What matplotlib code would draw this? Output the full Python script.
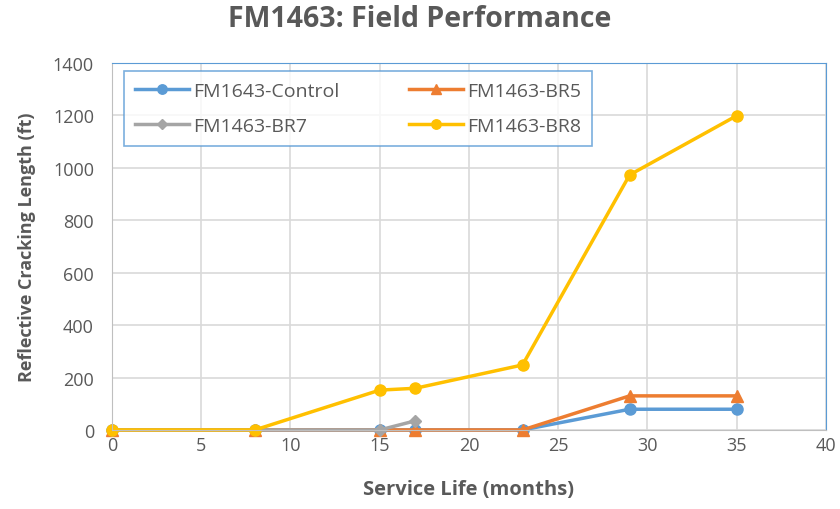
import matplotlib
matplotlib.use("Agg")
import matplotlib.pyplot as plt

months = [0, 8, 15, 17, 23, 29, 35]
control = [0, 0, 0, 0, 0, 79, 79]
br5 = [0, 0, 0, 0, 0, 130, 130]
br7_months = [0, 8, 15, 17]
br7 = [0, 0, 0, 35]
br8 = [0, 0, 152, 159, 248, 973, 1199]

plt.rcParams['font.family'] = ['Open Sans', 'DejaVu Sans']

fig = plt.figure(figsize=(8.4, 5.1), dpi=100)
ax = fig.add_axes([0.1333, 0.155, 0.850, 0.7195])

l1, = ax.plot(months, control, color='#5b9bd5', lw=2.5, marker='o', ms=8, label='FM1643-Control', clip_on=False)
l2, = ax.plot(months, br5, color='#ed7d31', lw=2.5, marker='^', ms=8, label='FM1463-BR5', clip_on=False)
l3, = ax.plot(br7_months, br7, color='#a5a5a5', lw=2.5, marker='D', ms=6, label='FM1463-BR7', clip_on=False)
l4, = ax.plot(months, br8, color='#ffc000', lw=2.5, marker='o', ms=8, label='FM1463-BR8', clip_on=False)

ax.set_xlim(0, 40)
ax.set_ylim(0, 1400)
ax.set_xticks(range(0, 41, 5))
ax.set_yticks(range(0, 1401, 200))
ax.grid(True, color='#d9d9d9', lw=1.2)
ax.set_axisbelow(True)
for s in ['left', 'bottom']:
    ax.spines[s].set_color('#bfbfbf')
for s in ['top', 'right']:
    ax.spines[s].set_color('#5b9bd5')
ax.tick_params(length=0, labelsize=13, labelcolor='#595959')
ax.tick_params(axis='x', pad=4)
ax.tick_params(axis='y', pad=13)

ax.set_xlabel('Service Life (months)', fontsize=14.5, fontweight='bold', color='#595959', labelpad=18)
ax.set_ylabel('Reflective Cracking Length (ft)', fontsize=13, fontweight='bold', color='#595959', labelpad=12)
fig.suptitle('FM1463: Field Performance', fontsize=20.5, fontweight='bold', color='#595959', y=0.99)

# row-wise order like the original: Control, BR5 / BR7, BR8
leg = ax.legend([l1, l3, l2, l4], [l1.get_label(), l3.get_label(), l2.get_label(), l4.get_label()],
                ncol=2, loc='upper left', bbox_to_anchor=(0.017, 0.770, 0.655, 0.208), mode='expand',
                borderaxespad=0, fontsize=14, frameon=True, fancybox=False, edgecolor='#5b9bd5',
                handlelength=2.8, handletextpad=0.2, labelcolor='#595959', borderpad=0.55,
                labelspacing=0.9, markerscale=0.85)
leg.get_frame().set_linewidth(1.2)

fig.savefig('out.png', dpi=100)
